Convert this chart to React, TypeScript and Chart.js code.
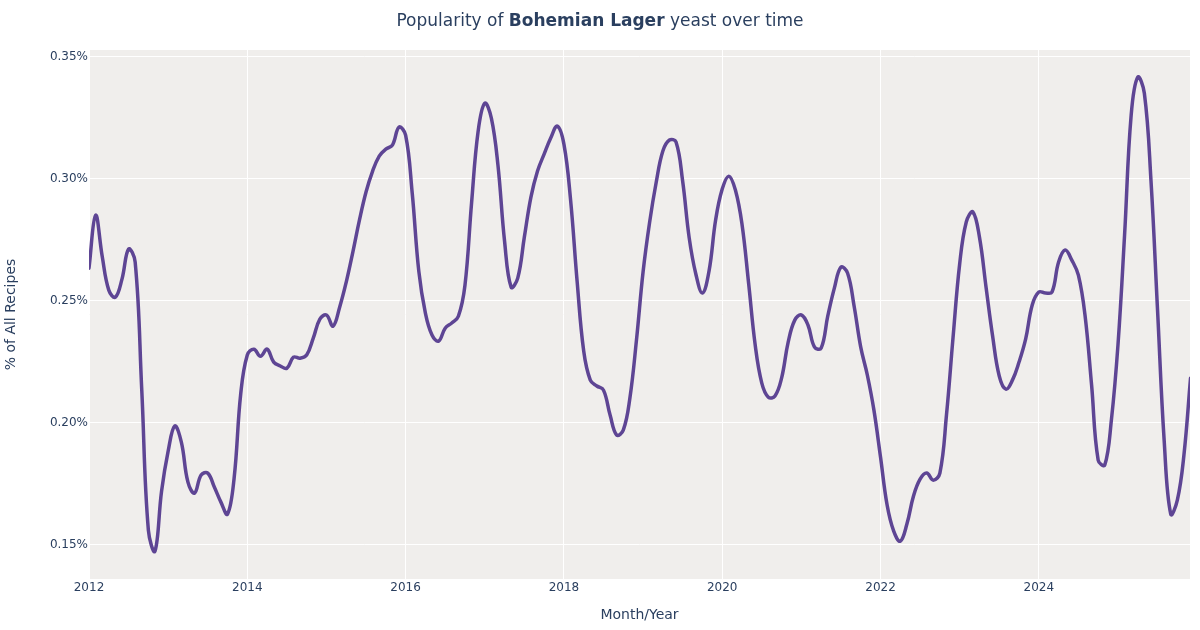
import React, { useEffect, useRef } from "react";
import { Chart, registerables } from "chart.js";

Chart.register(...registerables);

// Monthly series, Jan 2012 .. Dec 2025 (% of all recipes)
const START_YEAR = 2012;
const popularity: number[] = [
  // 2012
  0.2631, 0.2848, 0.268, 0.2541, 0.2512, 0.2586, 0.2709, 0.2656, 0.2131, 0.1557, 0.1471, 0.1717,
  // 2013
  0.1881, 0.1984, 0.1918, 0.1754, 0.1709, 0.1783, 0.1791, 0.1734, 0.1672, 0.1623, 0.177, 0.2115,
  // 2014
  0.2275, 0.2299, 0.227, 0.2299, 0.2246, 0.223, 0.2221, 0.2266, 0.2262, 0.2275, 0.2344, 0.2422,
  // 2015
  0.2439, 0.2393, 0.2471, 0.2574, 0.2697, 0.2828, 0.2943, 0.3029, 0.309, 0.3119, 0.3135, 0.3209,
  // 2016
  0.3176, 0.2939, 0.2619, 0.2447, 0.2357, 0.2332, 0.2385, 0.2406, 0.2434, 0.2561, 0.2898, 0.3193,
  // 2017
  0.3307, 0.3246, 0.3053, 0.2742, 0.2553, 0.259, 0.2758, 0.2922, 0.3029, 0.3098, 0.3164, 0.3213,
  // 2018
  0.3139, 0.2914, 0.2578, 0.2291, 0.2172, 0.2148, 0.2131, 0.2029, 0.1947, 0.1967, 0.2098, 0.2336,
  // 2019
  0.2615, 0.282, 0.2984, 0.3111, 0.3156, 0.3148, 0.2988, 0.2754, 0.2607, 0.2529, 0.2619, 0.2828,
  // 2020
  0.2955, 0.3008, 0.2951, 0.2811, 0.257, 0.2316, 0.216, 0.2102, 0.2107, 0.218, 0.2328, 0.2418,
  // 2021
  0.2439, 0.2398, 0.2307, 0.2303, 0.2434, 0.2549, 0.2635, 0.2611, 0.2475, 0.2307, 0.2193, 0.2049,
  // 2022
  0.1857, 0.166, 0.1553, 0.1512, 0.1582, 0.1697, 0.1766, 0.1791, 0.1762, 0.1791, 0.2029, 0.2348,
  // 2023
  0.2648, 0.282, 0.2861, 0.2758, 0.2553, 0.2352, 0.2189, 0.2135, 0.2172, 0.2246, 0.234, 0.248,
  // 2024
  0.2533, 0.2529, 0.2533, 0.2656, 0.2705, 0.2664, 0.2602, 0.2439, 0.2152, 0.1844, 0.1824, 0.2008,
  // 2025
  0.2316, 0.2766, 0.3258, 0.3414, 0.3348, 0.2992, 0.2459, 0.1926, 0.1623, 0.168, 0.1865, 0.218,
];

const xTickYears = [2012, 2014, 2016, 2018, 2020, 2022, 2024];
const yTickValues = [0.15, 0.2, 0.25, 0.3, 0.35];

const X_MIN = 2012;
const X_MAX = 2025.91;
const Y_MIN = 0.1357;
const Y_MAX = 0.3525;

const TITLE_PRE = "Popularity of ";
const TITLE_BOLD = "Bohemian Lager";
const TITLE_POST = " yeast over time";
const X_TITLE = "Month/Year";
const Y_TITLE = "% of All Recipes";

const TEXT_COLOR = "#2a3f5f";
const LINE_COLOR = "#5e4594";
const PLOT_BG = "#f0eeec";
const FONT = "'DejaVu Sans', Verdana, sans-serif";

const bgPlugin = {
  id: "plotBg",
  beforeDraw(chart: any) {
    const { ctx, chartArea } = chart;
    if (!chartArea) return;
    ctx.save();
    ctx.fillStyle = PLOT_BG;
    ctx.fillRect(chartArea.left, chartArea.top, chartArea.right - chartArea.left, chartArea.bottom - chartArea.top);
    ctx.restore();
  },
};

export default function App() {
  const canvasRef = useRef<HTMLCanvasElement | null>(null);

  useEffect(() => {
    document.body.style.margin = "0";
    const canvas = canvasRef.current;
    if (!canvas) return;
    Chart.defaults.font.family = FONT;
    const points = popularity.map((v, i) => ({ x: START_YEAR + i / 12, y: v }));
    const chart = new Chart(canvas, {
      type: "line",
      data: {
        datasets: [
          {
            data: points,
            borderColor: LINE_COLOR,
            borderWidth: 3.5,
            pointRadius: 0,
            tension: 0.4,
            fill: false,
            borderCapStyle: "round",
            borderJoinStyle: "round",
          },
        ],
      },
      options: {
        responsive: false,
        animation: false,
        maintainAspectRatio: false,
        layout: { padding: { left: 0, right: 10, top: 50, bottom: 0 } },
        plugins: {
          legend: { display: false },
          title: { display: false },
          tooltip: { enabled: false },
        },
        scales: {
          x: {
            type: "linear",
            min: X_MIN,
            max: X_MAX,
            afterBuildTicks: (scale: any) => {
              scale.ticks = xTickYears.map((v) => ({ value: v }));
            },
            afterFit: (scale: any) => {
              scale.height = 51;
            },
            ticks: {
              color: TEXT_COLOR,
              font: { size: 12, family: FONT },
              padding: 2,
              maxRotation: 0,
              autoSkip: false,
              callback: (v: any) => String(v),
            },
            grid: { color: "#ffffff", lineWidth: 1, drawTicks: false },
            border: { display: false },
            title: {
              display: true,
              text: X_TITLE,
              color: TEXT_COLOR,
              font: { size: 14, family: FONT },
              padding: { top: 0, bottom: 6 },
            },
          },
          y: {
            type: "linear",
            min: Y_MIN,
            max: Y_MAX,
            afterBuildTicks: (scale: any) => {
              scale.ticks = yTickValues.map((v) => ({ value: v }));
            },
            afterFit: (scale: any) => {
              scale.width = 89;
            },
            ticks: {
              color: TEXT_COLOR,
              font: { size: 12, family: FONT },
              padding: 1,
              labelOffset: 1,
              autoSkip: false,
              callback: (v: any) => Number(v).toFixed(2) + "%",
            },
            grid: { color: "#ffffff", lineWidth: 1, drawTicks: false },
            border: { display: false },
            title: {
              display: true,
              text: Y_TITLE,
              color: TEXT_COLOR,
              font: { size: 14, family: FONT },
              padding: { top: 3, bottom: 0 },
            },
          },
        },
      },
      plugins: [bgPlugin],
    } as any);
    return () => chart.destroy();
  }, []);

  return (
    <div style={{ position: "relative", width: 1200, height: 630, background: "#ffffff", overflow: "hidden" }}>
      <canvas ref={canvasRef} width={1200} height={630} style={{ position: "absolute", left: 0, top: 0, width: 1200, height: 630 }} />
      <div
        style={{
          position: "absolute",
          left: 0,
          top: 9,
          width: 1200,
          textAlign: "center",
          fontFamily: FONT,
          fontSize: 17,
          lineHeight: "22px",
          color: TEXT_COLOR,
          whiteSpace: "pre",
        }}
      >
        {TITLE_PRE}
        <b>{TITLE_BOLD}</b>
        {TITLE_POST}
      </div>
    </div>
  );
}
